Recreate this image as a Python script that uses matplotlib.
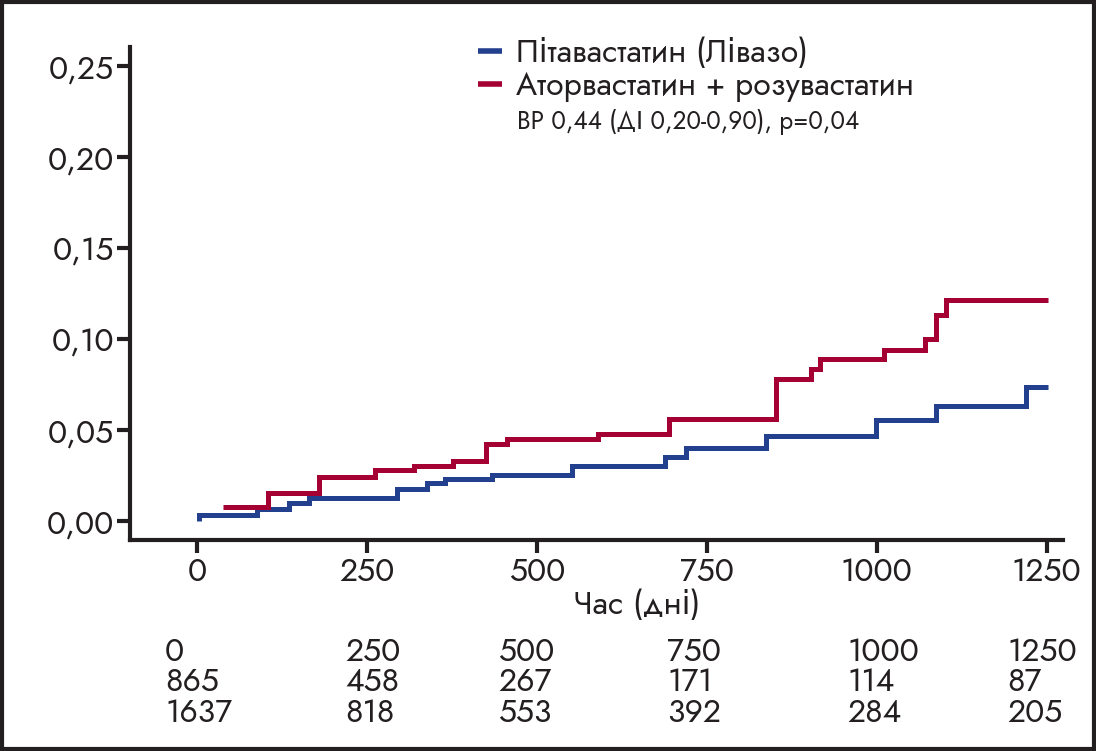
import matplotlib
matplotlib.use("Agg")
import matplotlib.pyplot as plt
from matplotlib.patches import Rectangle

# ---------------- data ----------------
blue_label = "Пітавастатин (Лівазо)"
red_label = "Аторвастатин + розувастатин"
hr_text = "ВР 0,44 (ДІ 0,20-0,90), p=0,04"
xlabel = "Час (дні)"

blue_t = [3, 3, 88, 135, 165, 294, 338, 365, 434, 551, 689, 720, 837, 999, 1087, 1220, 1252]
blue_v = [0.0, 0.0035, 0.0064, 0.0100, 0.0128, 0.0174, 0.0210, 0.0232, 0.0254, 0.0304,
          0.0350, 0.0401, 0.0468, 0.0554, 0.0633, 0.0734, 0.0734]

red_t = [38, 104, 180, 262, 319, 377, 425, 456, 590, 694, 852, 903, 917, 1011, 1071, 1087, 1102, 1252]
red_v = [0.0075, 0.0154, 0.0240, 0.0282, 0.0304, 0.0331, 0.0421, 0.0449, 0.0479, 0.0560,
         0.0783, 0.0836, 0.0889, 0.0939, 0.0999, 0.1131, 0.1213, 0.1213]

x_ticks = [0, 250, 500, 750, 1000, 1250]
y_ticks = [0.00, 0.05, 0.10, 0.15, 0.20, 0.25]
y_tick_labels = ["0,00", "0,05", "0,10", "0,15", "0,20", "0,25"]

risk_time = ["0", "250", "500", "750", "1000", "1250"]
risk_blue = ["865", "458", "267", "171", "114", "87"]
risk_red = ["1637", "818", "553", "392", "284", "205"]

# ---------------- style ----------------
BLUE = "#23408f"
RED = "#a50034"
INK = "#231f20"
FONT = ["Jost", "DejaVu Sans"]
plt.rcParams["font.family"] = FONT

W, H = 1096, 751
fig = plt.figure(figsize=(W / 100, H / 100), dpi=100)
ax = fig.add_axes([130 / W, 1 - 540 / H, (1063 - 130) / W, (540 - 47) / H])

lb, = ax.step(blue_t, blue_v, where="post", color=BLUE, lw=3.6,
              solid_capstyle="butt", solid_joinstyle="miter", label=blue_label)
lr, = ax.step(red_t, red_v, where="post", color=RED, lw=3.6,
              solid_capstyle="butt", solid_joinstyle="miter", label=red_label)

ax.set_xlim(-98.6, 1274)
ax.set_ylim(-0.0104, 0.2604)
for s in ["top", "right"]:
    ax.spines[s].set_visible(False)
for s in ["left", "bottom"]:
    ax.spines[s].set_linewidth(3.0)
    ax.spines[s].set_color(INK)

ax.set_xticks(x_ticks)
ax.set_xticklabels([str(v) for v in x_ticks])
ax.set_yticks(y_ticks)
ax.set_yticklabels(y_tick_labels)
ax.tick_params(axis="both", direction="out", length=9.5, width=3.0, color=INK,
               labelsize=23, labelcolor=INK, pad=2)

fig.text(637 / W, 1 - 605 / H, xlabel, ha="center", va="center", fontsize=23, color=INK)

leg = ax.legend(handles=[lb, lr], loc="upper left", bbox_to_anchor=(478 / W, 1 - 37 / H),
                bbox_transform=fig.transFigure, frameon=False, fontsize=23,
                handlelength=0.75, handletextpad=0.45, labelspacing=0.04,
                borderaxespad=0, borderpad=0, labelcolor=INK)
for h in leg.get_lines():
    h.set_linewidth(4.0)
fig.text(517 / W, 1 - 122 / H, hr_text, ha="left", va="center", fontsize=17.5, color=INK)

# number-at-risk table
col_x = [165, 345, 498, 667, 847, 1007]
row_y = [652, 682, 713]
for row, yy in zip([risk_time, risk_blue, risk_red], row_y):
    for txt, xx in zip(row, col_x):
        fig.text(xx / W, 1 - yy / H, txt, ha="left", va="center", fontsize=23, color=INK)

# outer frame
fig.patches.append(Rectangle((2 / W, 2 / H), 1 - 4 / W, 1 - 4 / H, transform=fig.transFigure,
                             fill=False, lw=3.0, edgecolor=INK))

fig.savefig("out.png", dpi=100)
